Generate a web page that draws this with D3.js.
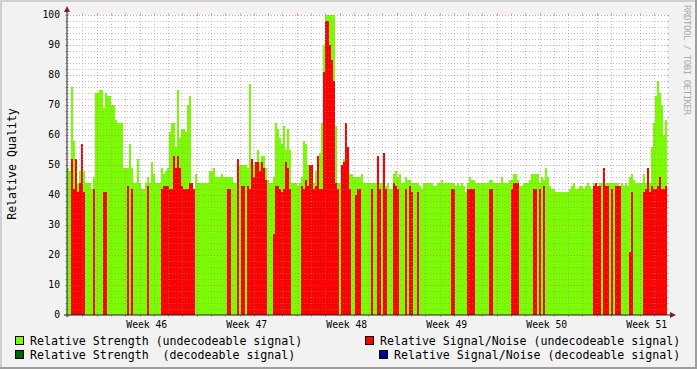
<!DOCTYPE html>
<html lang="en">
<head>
<meta charset="UTF-8" />
<title>relative quality</title>
<style>
  body { margin: 0; background: #f2f2f2; }
  svg { display: block; }
  text { font-family: "DejaVu Sans Mono", monospace; }
</style>
</head>
<body>
<svg id="chart" width="697" height="369"></svg>
<script src="https://cdn.jsdelivr.net/npm/d3@7"></script>
<script>
var width = 697, height = 369;
var plot = { left: 67, right: 667, top: 15, bottom: 315 };

// 6 weeks of samples, one every 3.36 h
var startTime = Date.UTC(2012, 10, 9, 22, 0);
var spanDays = 42;
var yTicks = [0, 10, 20, 30, 40, 50, 60, 70, 80, 90, 100];

// Relative Strength (undecodeable signal)
var strengthUndec = [
  49,48,76,58,48,44,48,51,48,44, 44,44,42,46,74,74,75,75,69,74,
  73,73,70,70,65,64,64,64,49,49, 49,57,49,44,44,52,44,42,42,44,
  46,44,51,47,44,44,44,49,47,48, 49,61,64,64,56,75,59,62,62,61,
  70,73,44,42,47,44,44,44,44,44, 44,48,48,49,46,46,46,47,46,46,
  46,46,46,44,44,45,50,50,50,50, 49,77,52,50,51,55,51,53,53,49,
  45,44,44,46,64,62,59,57,63,55, 62,55,44,44,44,43,44,46,58,57,
  50,46,44,44,48,50,54,64,90,100, 100,100,100,100,63,44,44,49,52,50,
  50,47,47,46,46,46,46,47,44,44, 44,44,44,44,44,44,44,44,44,43,
  44,42,42,47,48,46,47,44,44,46, 45,45,44,44,44,44,43,42,44,44,
  44,44,44,43,43,44,44,45,44,44, 44,44,44,44,43,44,43,44,43,41,
  44,46,45,45,44,44,44,44,44,44, 44,45,45,44,44,44,44,46,44,44,
  44,45,45,47,47,45,43,43,44,44, 44,45,47,47,47,47,44,46,45,49,
  46,43,42,42,41,41,41,41,41,41, 41,42,43,44,42,42,43,43,42,43,
  44,43,42,44,44,43,44,44,44,44, 44,44,44,44,44,44,43,44,43,44,
  43,46,47,45,44,44,44,44,47,44, 49,44,56,64,73,78,74,70,60,65
];

// Relative Signal/Noise (undecodeable signal), 0 = no value
var snrUndec = [
  0,0,52,42,52,41,44,57,41,0, 0,0,0,42,0,0,0,0,41,41,
  0,0,0,0,0,0,0,0,0,0, 43,0,42,0,0,0,0,0,0,0,
  43,0,0,0,0,0,0,42,43,43, 43,42,42,53,49,53,49,43,42,42,
  42,44,44,42,0,0,0,0,0,0, 0,0,0,0,0,0,0,0,0,0,
  42,42,0,0,0,52,0,43,43,0, 43,42,52,46,51,51,48,51,49,45,
  0,0,0,27,43,43,42,41,42,51, 49,42,0,0,0,0,0,43,42,45,
  43,50,50,42,43,53,42,42,81,98, 98,90,85,78,44,42,0,50,51,64,
  56,42,0,0,40,42,42,0,0,0, 0,0,42,0,0,53,42,0,54,42,
  0,0,0,44,43,42,0,0,0,42, 0,43,41,0,0,41,0,0,0,0,
  0,0,0,0,0,0,0,0,0,0, 0,0,42,42,0,0,0,0,0,0,
  42,42,42,42,0,0,0,0,0,0, 0,42,42,0,0,0,0,0,0,0,
  0,0,42,44,44,44,0,0,0,0, 0,0,0,42,42,0,42,0,43,0,
  0,0,0,0,0,0,0,0,0,0, 0,0,0,0,0,0,0,0,0,0,
  0,0,0,43,44,43,43,0,49,43, 43,0,42,0,43,43,43,0,0,0,
  0,21,41,0,0,0,0,0,41,42, 49,41,43,42,42,43,46,42,42,43
];

// decodeable series have no samples in this period
var strengthDec = [];
var snrDec = [];

var legendLabels = [
  'Relative Strength (undecodeable signal)',
  'Relative Strength  (decodeable signal)',
  'Relative Signal/Noise (undecodeable signal)',
  'Relative Signal/Noise (decodeable signal)'
];
var legendColors = ['#7cfc00', '#006400', '#ff0000', '#000090'];

var svg = d3.select('#chart');
var endTime = startTime + spanDays * 864e5;
var step = (endTime - startTime) / strengthUndec.length;

var x = d3.scaleUtc().domain([startTime, endTime]).range([plot.left, plot.right]);
var y = d3.scaleLinear().domain([0, 100]).range([plot.bottom, plot.top]);

// frame
svg.append('rect').attr('width', width).attr('height', height).attr('fill', '#f2f2f2');
svg.append('rect').attr('width', width).attr('height', 2).attr('fill', '#cfcfcf');
svg.append('rect').attr('width', 2).attr('height', height).attr('fill', '#cfcfcf');
svg.append('rect').attr('y', height - 2).attr('width', width).attr('height', 2).attr('fill', '#9e9e9e');
svg.append('rect').attr('x', width - 2).attr('width', 2).attr('height', height).attr('fill', '#9e9e9e');

svg.append('rect')
  .attr('x', plot.left).attr('y', plot.top)
  .attr('width', plot.right - plot.left).attr('height', plot.bottom - plot.top)
  .attr('fill', '#fff');

function drawSeries(values, color) {
  svg.append('g')
    .attr('fill', color)
    .attr('shape-rendering', 'crispEdges')
    .selectAll('rect')
    .data(values.map((v, i) => ({ v: v, t: startTime + i * step })).filter(d => d.v > 0))
    .join('rect')
    .attr('x', d => Math.round(x(d.t)))
    .attr('width', d => Math.round(x(d.t + step)) - Math.round(x(d.t)))
    .attr('y', d => Math.round(y(d.v)))
    .attr('height', d => plot.bottom - Math.round(y(d.v)));
}

drawSeries(strengthUndec, legendColors[0]);
drawSeries(strengthDec, legendColors[1]);
drawSeries(snrUndec, legendColors[2]);
drawSeries(snrDec, legendColors[3]);

// grid on top of the data
var minorCol = 'rgba(143,143,143,0.55)';
var majorCol = 'rgba(222,79,79,0.55)';
var grid = svg.append('g').attr('shape-rendering', 'crispEdges').attr('stroke-width', 1);

var yMinor = d3.range(2, 101, 2).filter(v => v % 10 !== 0);
var yMajor = yTicks.filter(v => v > 0);

function hLines(vals, col) {
  vals.forEach(v => {
    var yy = Math.round(y(v)) + 0.5;
    grid.append('line').attr('x1', plot.left).attr('x2', plot.right)
      .attr('y1', yy).attr('y2', yy).attr('stroke', col).attr('stroke-dasharray', '1,2');
    grid.append('line').attr('x1', plot.left - 2).attr('x2', plot.left)
      .attr('y1', yy).attr('y2', yy).attr('stroke', col);
    grid.append('line').attr('x1', plot.right).attr('x2', plot.right + 2)
      .attr('y1', yy).attr('y2', yy).attr('stroke', col);
  });
}
function vLines(vals, col) {
  vals.forEach(t => {
    var xx = Math.round(x(t)) + 0.5;
    grid.append('line').attr('y1', plot.top).attr('y2', plot.bottom)
      .attr('x1', xx).attr('x2', xx).attr('stroke', col).attr('stroke-dasharray', '1,2');
    grid.append('line').attr('y1', plot.bottom).attr('y2', plot.bottom + 2)
      .attr('x1', xx).attr('x2', xx).attr('stroke', col);
    grid.append('line').attr('y1', plot.top - 2).attr('y2', plot.top)
      .attr('x1', xx).attr('x2', xx).attr('stroke', col);
  });
}

var mondays = d3.utcMonday.range(new Date(startTime), new Date(endTime));
var days = d3.utcDay.range(new Date(startTime), new Date(endTime))
  .filter(d => d.getUTCDay() !== 1);

hLines(yMinor, minorCol);
vLines(days, minorCol);
hLines(yMajor, majorCol);
vLines(mondays, majorCol);

// axes
svg.append('line').attr('x1', plot.left).attr('x2', plot.left)
  .attr('y1', plot.bottom + 2).attr('y2', plot.top - 6)
  .attr('stroke', '#1f1f1f');
svg.append('line').attr('x1', plot.left - 3).attr('x2', plot.right + 6)
  .attr('y1', plot.bottom).attr('y2', plot.bottom)
  .attr('stroke', '#1f1f1f');
svg.append('path')
  .attr('d', `M${plot.left - 3},${plot.top - 3}L${plot.left},${plot.top - 9}L${plot.left + 3},${plot.top - 3}Z`)
  .attr('fill', '#801f1f');
svg.append('path')
  .attr('d', `M${plot.right + 3},${plot.bottom - 3}L${plot.right + 9},${plot.bottom}L${plot.right + 3},${plot.bottom + 3}Z`)
  .attr('fill', '#801f1f');

// tick labels
svg.append('g')
  .style('font-size', '9.7px')
  .selectAll('text')
  .data(yTicks)
  .join('text')
  .attr('x', 60)
  .attr('y', d => y(d))
  .attr('dy', '0.35em')
  .attr('text-anchor', 'end')
  .text(d => d);

var weekFmt = d3.utcFormat('%V');
svg.append('g')
  .style('font-size', '9.7px')
  .selectAll('text')
  .data(mondays)
  .join('text')
  .attr('x', d => x(d3.utcHour.offset(d, 84)))
  .attr('y', 325)
  .attr('dy', '0.35em')
  .attr('text-anchor', 'middle')
  .text(d => 'Week ' + weekFmt(d));

// y title
svg.append('text')
  .attr('transform', 'translate(16,164) rotate(-90)')
  .attr('text-anchor', 'middle')
  .style('font-size', '11.6px')
  .text('Relative Quality');

// watermark
svg.append('text')
  .attr('transform', 'translate(684,5) rotate(90)')
  .attr('fill', '#aaaaaa')
  .style('font-size', '9px')
  .attr('textLength', 110)
  .text('RRDTOOL / TOBI OETIKER');

// legend
var legendPos = [
  { bx: 15, tx: 30, cy: 341 },
  { bx: 15, tx: 30, cy: 355 },
  { bx: 365, tx: 380, cy: 341 },
  { bx: 379, tx: 394, cy: 355 }
];
var leg = svg.append('g').selectAll('g')
  .data(legendLabels)
  .join('g');
leg.append('rect')
  .attr('x', (d, i) => legendPos[i].bx + 0.5)
  .attr('y', (d, i) => legendPos[i].cy - 4.5)
  .attr('width', 8).attr('height', 8)
  .attr('fill', (d, i) => legendColors[i])
  .attr('stroke', '#000');
leg.append('text')
  .attr('x', (d, i) => legendPos[i].tx)
  .attr('y', (d, i) => legendPos[i].cy)
  .attr('dy', '0.35em')
  .style('font-size', '11.6px')
  .style('white-space', 'pre')
  .attr('xml:space', 'preserve')
  .text(d => d);
</script>
</body>
</html>
